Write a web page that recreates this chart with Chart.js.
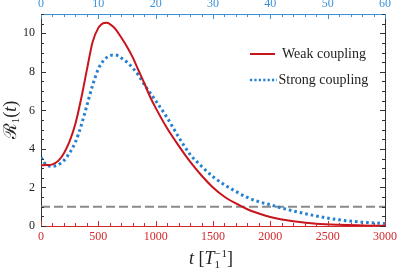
<!DOCTYPE html>
<html>
<head>
<meta charset="utf-8">
<script src="https://cdn.jsdelivr.net/npm/chart.js@4/dist/chart.umd.min.js"></script>
<style>
  html, body { margin: 0; padding: 0; background: #fff; }
  #wrap { width: 397px; height: 271px; }
</style>
</head>
<body>
<div id="wrap"><canvas id="chart_canvas" width="397" height="271"></canvas></div>
<script>
// time grid (units of 1/T1)
const times = [0, 50, 100, 150, 200, 250, 300, 350, 400, 450, 500, 525, 550, 575, 600, 625,
  650, 700, 750, 800, 850, 900, 950, 1000, 1100, 1200, 1300, 1400, 1500, 1600, 1700, 1800,
  1900, 2000, 2100, 2200, 2400, 2600, 2800, 3000];

const weakCoupling = [3.15, 3.16, 3.2, 3.38, 3.78, 4.4, 5.3, 6.6, 8.1, 9.55, 10.28, 10.45,
  10.53, 10.55, 10.48, 10.37, 10.22, 9.78, 9.3, 8.75, 8.08, 7.42, 6.72, 6.13, 5.07, 4.17,
  3.34, 2.62, 2.0, 1.52, 1.17, 0.87, 0.65, 0.47, 0.34, 0.25, 0.12, 0.06, 0.03, 0.01];

const strongCoupling = [3.56, 3.15, 3.1, 3.18, 3.4, 3.8, 4.35, 5.2, 6.25, 7.3, 8.15, 8.42,
  8.62, 8.75, 8.83, 8.87, 8.87, 8.72, 8.5, 8.2, 7.82, 7.35, 6.92, 6.5, 5.62, 4.62, 3.72,
  3.1, 2.56, 2.14, 1.79, 1.48, 1.26, 1.1, 0.93, 0.78, 0.52, 0.32, 0.2, 0.13];

const refLevel = 1;
const xTicks = [0, 500, 1000, 1500, 2000, 2500, 3000];
const topTicks = [0, 10, 20, 30, 40, 50, 60];
const yTicks = [0, 2, 4, 6, 8, 10];

const RED = '#c8141c';
const BLUE = '#2380d2';
const AXBLUE = '#3c92d8';
const AXRED = '#d0282c';
const DARK = '#333333';
const SERIF = "'Liberation Serif', 'DejaVu Serif', serif";

function pts(ys) {
  return times.map((t, i) => ({ x: t, y: ys[i] }));
}

// draws a row of text pieces with their own font / vertical shift, centred on (cx, cy)
function drawRuns(c, runs, cx, cy) {
  let total = 0;
  for (const r of runs) {
    c.font = r.font;
    r.w = r.stack ? Math.max(...r.stack.map(s => c.measureText(s.text).width)) : c.measureText(r.text).width;
    total += r.w;
  }
  let x = cx - total / 2;
  for (const r of runs) {
    c.font = r.font;
    if (r.stack) {
      for (const s of r.stack) c.fillText(s.text, x, cy + s.dy);
    } else {
      c.fillText(r.text, x, cy + (r.dy || 0));
    }
    x += r.w;
  }
}

// inward tick marks on all four sides, inset legend, axis titles
const frameTicks = {
  id: 'frameTicks',
  afterDraw(chart) {
    const c = chart.ctx;
    const a = chart.chartArea;
    const sx = chart.scales.x, sx2 = chart.scales.x2, sy = chart.scales.y;
    c.save();
    c.lineWidth = 1;

    c.strokeStyle = AXRED;
    for (let v = 0; v <= 3000; v += 100) {
      const p = Math.round(sx.getPixelForValue(v)) + 0.5;
      const len = v % 500 === 0 ? 5 : 3;
      c.beginPath(); c.moveTo(p, a.bottom); c.lineTo(p, a.bottom - len); c.stroke();
    }
    c.strokeStyle = AXBLUE;
    for (let v = 0; v <= 60; v += 2) {
      const p = Math.round(sx2.getPixelForValue(v)) + 0.5;
      const len = v % 10 === 0 ? 5 : 3;
      c.beginPath(); c.moveTo(p, a.top); c.lineTo(p, a.top + len); c.stroke();
    }
    c.strokeStyle = DARK;
    for (let v = 0; v <= 11; v += 0.5) {
      const p = Math.round(sy.getPixelForValue(v)) + 0.5;
      const len = v % 2 === 0 ? 5 : 3;
      c.beginPath(); c.moveTo(a.left, p); c.lineTo(a.left + len, p); c.stroke();
      c.beginPath(); c.moveTo(a.right, p); c.lineTo(a.right - len, p); c.stroke();
    }

    // legend
    c.font = '14px ' + SERIF;
    c.textBaseline = 'middle';
    c.fillStyle = '#222';
    c.lineWidth = 2;
    c.strokeStyle = RED;
    c.beginPath(); c.moveTo(250, 54); c.lineTo(275, 54); c.stroke();
    c.fillText('Weak coupling', 282, 54);
    c.lineWidth = 2.5;
    c.strokeStyle = BLUE;
    c.setLineDash([2.2, 2.2]);
    c.beginPath(); c.moveTo(250, 80); c.lineTo(277, 80); c.stroke();
    c.setLineDash([]);
    c.fillText('Strong coupling', 278.5, 80);

    // axis titles
    c.textBaseline = 'alphabetic';
    const it = 'italic 18px ' + SERIF, up = '18px ' + SERIF, sm = '11px ' + SERIF;
    drawRuns(c, [
      { text: 't', font: it },
      { text: ' [', font: up },
      { text: 'T', font: it },
      { stack: [{ text: '\u2212\u200A1', dy: -7 }, { text: '1', dy: 4 }], font: sm },
      { text: ']', font: up }
    ], 211, 264);

    c.translate(16, 120);
    c.rotate(-Math.PI / 2);
    drawRuns(c, [
      { text: '\u211B', font: up },
      { text: '1', font: sm, dy: 3 },
      { text: '(', font: up },
      { text: 't', font: it },
      { text: ')', font: up }
    ], 0, 0);
    c.restore();
  }
};

// keep the frame fixed: no extra room for overhanging end labels
function fixX(h) {
  return s => { s.height = h; s.paddingLeft = 0; s.paddingRight = 0; };
}

var ctx = document.getElementById('chart_canvas').getContext('2d');
var myChart = new Chart(ctx, {
  type: 'line',
  data: {
    datasets: [
      {
        label: 'Weak coupling',
        data: pts(weakCoupling),
        borderColor: RED,
        borderWidth: 2,
        pointRadius: 0,
        cubicInterpolationMode: 'monotone'
      },
      {
        label: 'Strong coupling',
        data: pts(strongCoupling),
        borderColor: BLUE,
        borderWidth: 3,
        borderDash: [2.6, 3],
        pointRadius: 0,
        cubicInterpolationMode: 'monotone'
      },
      {
        label: 'level',
        data: [{ x: 0, y: refLevel }, { x: 3000, y: refLevel }],
        borderColor: '#8a8a8a',
        borderWidth: 2,
        borderDash: [9, 4],
        pointRadius: 0
      }
    ]
  },
  options: {
    responsive: false,
    animation: false,
    layout: { padding: 0 },
    plugins: { legend: { display: false }, tooltip: { enabled: false } },
    scales: {
      x: {
        type: 'linear', position: 'bottom', min: 0, max: 3000,
        afterBuildTicks: s => { s.ticks = xTicks.map(v => ({ value: v })); },
        afterFit: fixX(45),
        grid: { display: false, drawTicks: false },
        border: { color: AXRED, width: 1 },
        ticks: { color: AXRED, padding: 4, maxRotation: 0, font: { family: SERIF, size: 12 },
                 callback: v => String(v) }
      },
      x2: {
        type: 'linear', position: 'top', min: 0, max: 60,
        afterBuildTicks: s => { s.ticks = topTicks.map(v => ({ value: v })); },
        afterFit: fixX(14),
        grid: { display: false, drawTicks: false },
        border: { color: AXBLUE, width: 1 },
        ticks: { color: AXBLUE, padding: 3, maxRotation: 0, font: { family: SERIF, size: 12 },
                 callback: v => String(v) }
      },
      y: {
        type: 'linear', position: 'left', min: 0, max: 11,
        afterBuildTicks: s => { s.ticks = yTicks.map(v => ({ value: v })); },
        afterFit: s => { s.width = 41; },
        grid: { display: false, drawTicks: false },
        border: { color: DARK, width: 1 },
        ticks: { color: '#222', padding: 6, font: { family: SERIF, size: 12 } }
      },
      y2: {
        type: 'linear', position: 'right', min: 0, max: 11,
        afterFit: s => { s.width = 12; },
        grid: { display: false, drawTicks: false },
        border: { color: DARK, width: 1 },
        ticks: { display: false }
      }
    }
  },
  plugins: [frameTicks]
});
</script>
</body>
</html>
